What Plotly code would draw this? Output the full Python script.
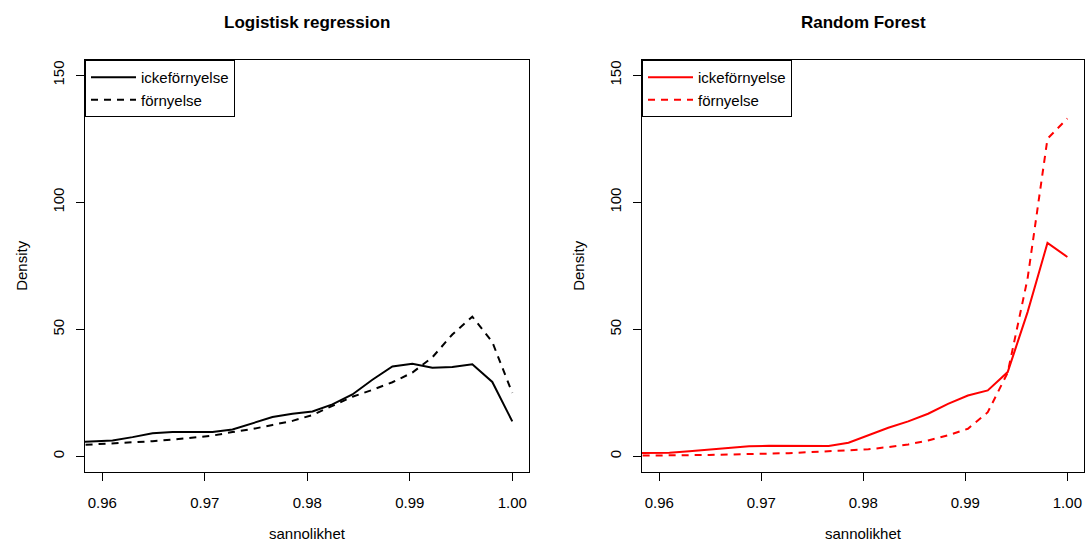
import plotly.graph_objects as go

# x grid of the density estimates (sannolikhet)
x_vals = [0.95710, 0.95905, 0.96100, 0.96295, 0.96490, 0.96685, 0.96880, 0.97075,
          0.97270, 0.97465, 0.97660, 0.97855, 0.98050, 0.98245, 0.98440, 0.98635,
          0.98830, 0.99025, 0.99220, 0.99415, 0.99610, 0.99805, 1.00000]

# Logistisk regression
lr_icke = [5.6, 5.9, 6.3, 7.6, 9.1, 9.6, 9.6, 9.6, 10.6, 12.9, 15.5, 16.8,
           17.7, 20.5, 24.4, 30.2, 35.4, 36.5, 34.9, 35.2, 36.3, 29.3, 13.8]
lr_forn = [4.3, 4.7, 5.0, 5.5, 6.0, 6.6, 7.3, 8.2, 9.6, 10.8, 12.4, 14.0,
           16.3, 19.8, 23.5, 26.2, 29.2, 33.0, 39.0, 48.0, 55.0, 45.0, 25.0]

# Random Forest
rf_icke = [1.3, 1.4, 1.5, 2.0, 2.7, 3.5, 4.0, 4.2, 4.2, 4.1, 4.1, 5.4,
           8.3, 11.3, 13.8, 16.8, 20.7, 24.0, 26.0, 33.2, 56.8, 84.0, 78.5]
rf_forn = [0.3, 0.3, 0.4, 0.5, 0.6, 0.8, 0.9, 1.0, 1.3, 1.7, 2.0, 2.4,
           2.8, 3.7, 4.7, 6.3, 8.3, 10.9, 17.4, 33.0, 70.0, 125.0, 133.0]

x_ticks = [0.96, 0.97, 0.98, 0.99, 1.00]
x_ticktext = ["0.96", "0.97", "0.98", "0.99", "1.00"]
y_ticks = [0, 50, 100, 150]
labels = ["ickeförnyelse", "förnyelse"]
titles = ["Logistisk regression", "Random Forest"]

FONT = "Liberation Sans, Arial, Helvetica, sans-serif"
W, H = 1085, 542

fig = go.Figure()
dash_style = "7px,6px"

fig.add_trace(go.Scatter(x=x_vals, y=lr_icke, mode="lines", name=labels[0],
                         line=dict(color="black", width=2), xaxis="x", yaxis="y",
                         legend="legend"))
fig.add_trace(go.Scatter(x=x_vals, y=lr_forn, mode="lines", name=labels[1],
                         line=dict(color="black", width=2, dash=dash_style),
                         xaxis="x", yaxis="y", legend="legend"))
fig.add_trace(go.Scatter(x=x_vals, y=rf_icke, mode="lines", name=labels[0],
                         line=dict(color="red", width=2), xaxis="x2", yaxis="y2",
                         legend="legend2"))
fig.add_trace(go.Scatter(x=x_vals, y=rf_forn, mode="lines", name=labels[1],
                         line=dict(color="red", width=2, dash=dash_style),
                         xaxis="x2", yaxis="y2", legend="legend2"))

left_px = (85, 529)
right_px = (642, 1084)
top_px, bot_px = 60, 471.7
ydom = [1 - bot_px / H, 1 - top_px / H]

xcommon = dict(range=[0.95831, 1.00163], tickvals=x_ticks, ticktext=x_ticktext,
               ticks="outside", ticklen=8, tickwidth=1, tickcolor="black",
               showline=True, mirror=True, linecolor="black", linewidth=1,
               showgrid=False, zeroline=False, ticklabelstandoff=9,
               tickfont=dict(family=FONT, size=15, color="black"))
ycommon = dict(range=[-6, 156], tickvals=y_ticks, ticktext=[str(v) for v in y_ticks],
               ticks="outside", ticklen=8, tickwidth=1, tickcolor="black",
               showline=True, mirror=True, linecolor="black", linewidth=1,
               showgrid=False, zeroline=False, tickangle=-90, ticklabelstandoff=6,
               tickfont=dict(family=FONT, size=15, color="black"))

legcommon = dict(bordercolor="black", borderwidth=1, bgcolor="white",
                 xanchor="left", yanchor="top", y=ydom[1],
                 font=dict(family=FONT, size=15, color="black"),
                 tracegroupgap=0, itemwidth=45)

fig.update_layout(
    width=W, height=H,
    margin=dict(l=0, r=0, t=0, b=0),
    paper_bgcolor="white", plot_bgcolor="white",
    font=dict(family=FONT, color="black"),
    xaxis=dict(domain=[left_px[0] / W, left_px[1] / W], anchor="y", **xcommon),
    yaxis=dict(domain=ydom, anchor="x", **ycommon),
    xaxis2=dict(domain=[right_px[0] / W, right_px[1] / W], anchor="y2", **xcommon),
    yaxis2=dict(domain=ydom, anchor="x2", **ycommon),
    legend=dict(x=left_px[0] / W, **legcommon),
    legend2=dict(x=right_px[0] / W, **legcommon),
    showlegend=True,
)

annos = []
for (l, r), t, dens_x in [(left_px, titles[0], 22), (right_px, titles[1], 579)]:
    cx = (l + r) / 2 / W
    annos.append(dict(text="<b>%s</b>" % t, x=cx, y=1 - 22 / H, xref="paper", yref="paper",
                      showarrow=False, font=dict(family=FONT, size=17, color="black"),
                      xanchor="center", yanchor="middle"))
    annos.append(dict(text="sannolikhet", x=cx, y=1 - 533 / H, xref="paper", yref="paper",
                      showarrow=False, font=dict(family=FONT, size=15, color="black"),
                      xanchor="center", yanchor="middle"))
    annos.append(dict(text="Density", x=dens_x / W, y=1 - (top_px + bot_px) / 2 / H,
                      xref="paper", yref="paper", showarrow=False, textangle=-90,
                      font=dict(family=FONT, size=15, color="black"),
                      xanchor="center", yanchor="middle"))
fig.update_layout(annotations=annos)

fig.write_html("out.html")
